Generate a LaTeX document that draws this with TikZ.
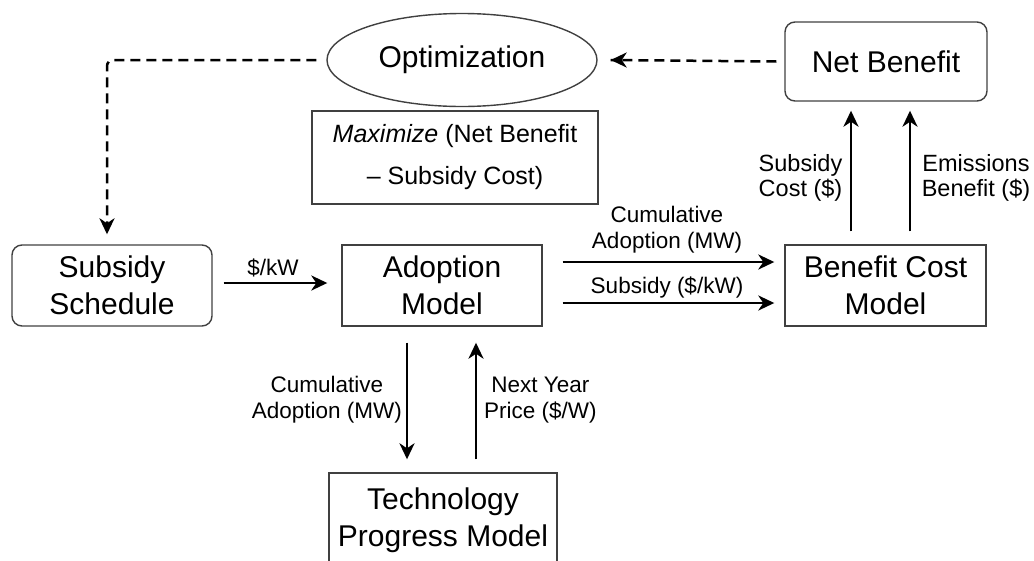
\documentclass[tikz,border=0pt]{standalone}
\usepackage{fontspec}
\setmainfont{Liberation Sans}
\usetikzlibrary{shapes.geometric,arrows.meta}
\newcommand\bigfont{\fontsize{30}{37}\selectfont}
\newcommand\maxfont{\fontsize{25}{42}\selectfont}
\newcommand\lblfont{\fontsize{22.5}{26}\selectfont}
\newcommand\lblfontb{\fontsize{23.5}{25}\selectfont}
\begin{document}
\begin{tikzpicture}[x=1pt,y=-1pt,
  box/.style={draw=black!75, line width=1.4pt, align=center, font=\bigfont, inner sep=0pt, text=black},
  rbox/.style={box, rounded corners=10pt},
  lbl/.style={font=\lblfont, align=center, inner sep=0pt},
  lblb/.style={font=\lblfontb, align=center, inner sep=0pt},
  tip/.style={-{Stealth[length=16pt,width=15pt,inset=5pt]}},
  arr/.style={line width=2.8pt, tip},
  darr/.style={line width=2.5pt, dash pattern=on 10pt off 6pt},
  ]
\useasboundingbox (0,0) rectangle (1034,560);
\begin{scope}
\clip (0,0) rectangle (1034,560);
\node[ellipse, draw=black!75, line width=1.4pt, minimum width=270pt, minimum height=93pt, inner sep=0pt, font=\bigfont] (opt) at (462,60) {Optimization};
\node[box, minimum width=286pt, minimum height=93pt, font=\maxfont] (maxb) at (455,157.5) {\textit{Maximize} (Net Benefit\\– Subsidy Cost)};
\node[rbox, minimum width=202pt, minimum height=79pt] (nb) at (886,61.5) {Net Benefit};
\node[rbox, minimum width=200pt, minimum height=81pt] (ss) at (112,285.5) {Subsidy\\Schedule};
\node[box, minimum width=200pt, minimum height=81pt] (am) at (442,285.5) {Adoption\\Model};
\node[box, minimum width=201pt, minimum height=81pt] (bc) at (885.5,285.5) {Benefit Cost\\Model};
\node[box, minimum width=228pt, minimum height=95pt] (tp) at (443,520.5) {Technology\\Progress Model};
\end{scope}

% solid arrows
\draw[arr] ([xshift=11pt,yshift=2.5pt]ss.east) -- ([xshift=-14pt,yshift=2.5pt]am.west);
\draw[arr] ([xshift=20pt,yshift=23.5pt]am.east) -- ([xshift=-10pt,yshift=23.5pt]bc.west);
\draw[arr] ([xshift=20pt,yshift=-17.5pt]am.east) -- ([xshift=-10pt,yshift=-17.5pt]bc.west);
\draw[arr] ([xshift=-34.5pt,yshift=13pt]bc.north) -- ([xshift=-35pt,yshift=-9pt]nb.south);
\draw[arr] ([xshift=24.5pt,yshift=13pt]bc.north) -- ([xshift=24pt,yshift=-9pt]nb.south);
\draw[arr] ([xshift=-35pt,yshift=-16pt]am.south) -- ([xshift=-36pt,yshift=13pt]tp.north);
\draw[arr] ([xshift=33pt,yshift=13pt]tp.north) -- ([xshift=34pt,yshift=-16pt]am.south);

% dashed arrows
\draw[darr] ([xshift=-8pt]nb.west) -- ([xshift=13pt]opt.east);
\draw[arr] ([xshift=19pt]opt.east) -- ([xshift=13pt]opt.east);
\coordinate (ssin) at ([xshift=-5pt,yshift=10pt]ss.north);
\draw[darr, rounded corners=6pt] ([xshift=-10pt]opt.west) -| ([yshift=4pt]ssin);
\draw[arr] ([yshift=6pt]ssin) -- (ssin);

% labels
\node[lbl] (l1) at (273,268) {\$/kW};
\node[lbl] (l2) at (667,230) {Cumulative\\Adoption (MW)};
\node[lbl] (l3) at (667,288) {Subsidy (\$/kW)};
\node[lblb] (l4) at (800.5,177.5) {Subsidy\\Cost (\$)};
\node[lblb] (l5) at (976,177.5) {Emissions\\Benefit (\$)};
\node[lbl, anchor=east] (l6) at (402,400) {Cumulative\\Adoption (MW)};
\node[lbl, anchor=west] (l7) at (484,400) {Next Year\\Price (\$/W)};
\end{tikzpicture}
\end{document}
